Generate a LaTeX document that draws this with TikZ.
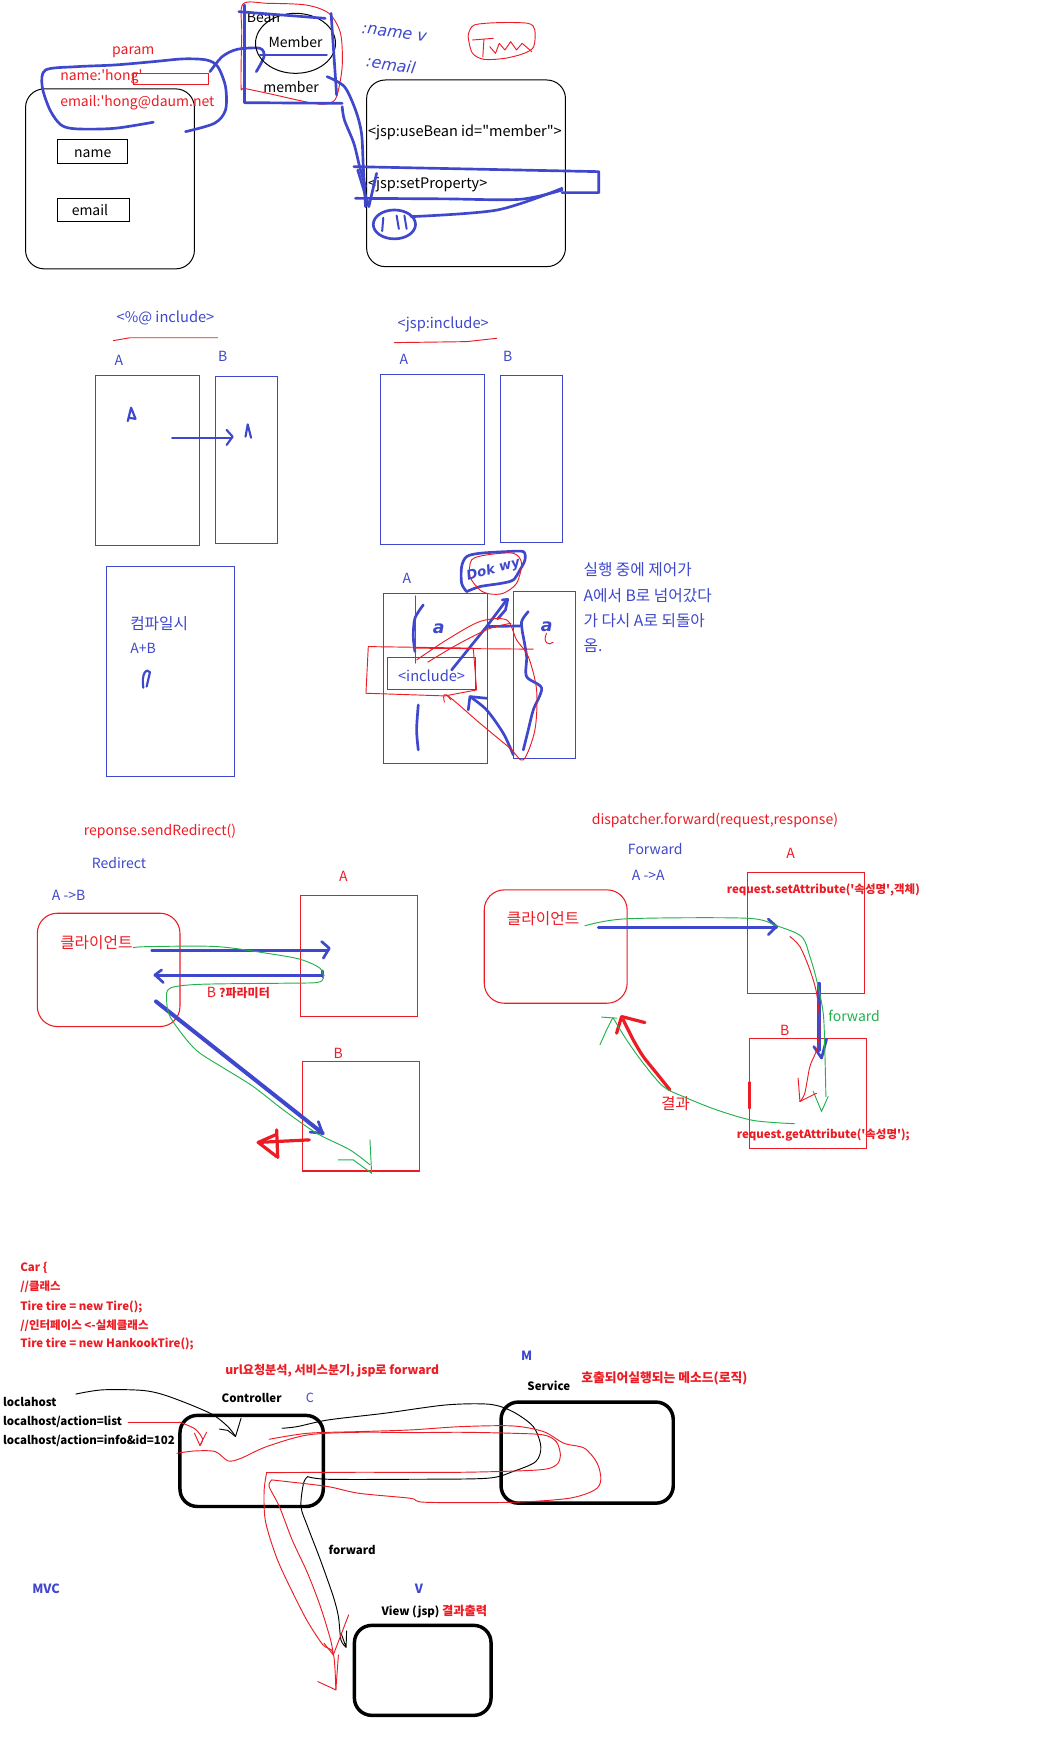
\documentclass[tikz,border=0pt]{standalone}
\usepackage{fontspec}
\setmainfont{Noto Sans CJK KR}
\newfontfamily\handfont{DejaVu Sans}
\definecolor{pblue}{HTML}{3F48CC}
\definecolor{pred}{HTML}{ED1C24}
\definecolor{pgreen}{HTML}{22B14C}
\begin{document}
\begin{tikzpicture}[x=0.8334pt,y=-0.8334pt,
 every node/.style={inner sep=0pt},
 tx/.style={font=\fontsize{10.5}{12}\selectfont},
 tk/.style={font=\fontsize{11.8}{13}\selectfont},
 tb/.style={font=\fontsize{8.6}{10}\selectfont\bfseries},
 hw/.style={font=\handfont\fontsize{12}{14}\selectfont\itshape, pblue},
 hb/.style={pblue, line width=2pt, line cap=round, line join=round},
 hbt/.style={pblue, line width=3pt, line cap=round, line join=round},
 hr/.style={pred, line width=0.7pt, line cap=round, line join=round},
 hrt/.style={pred, line width=2.4pt, line cap=round, line join=round},
 hg/.style={pgreen, line width=0.7pt, line cap=round, line join=round},
 kb/.style={black, line width=0.7pt, line cap=round, line join=round},
 kbox/.style={black, line width=0.75pt},
 kbt/.style={black, line width=2.6pt, rounded corners=13},
 bx/.style={pblue, line width=0.8pt},
 rx/.style={pred, line width=0.8pt},
]
\useasboundingbox[fill=white] (0,0) rectangle (944,1568);

%================ TOP: useBean =================
\draw[kbox, rounded corners=14] (23,80) rectangle (175,242);
\node[tx,pred] (param) at (120,47) {param};
\node[tx,pred,anchor=west] (nh) at (54,69) {name:\textquotesingle hong\textquotesingle};
\draw[rx] (120,66) rectangle (188,76);
\node[tx,pred,anchor=west] (em) at (54,92) {email:\textquotesingle hong@daum.net};
\draw[kbox] (52,126) rectangle (115,147);
\node[tx] (nm) at (83.5,138) {name};
\draw[kbox] (52,179) rectangle (117,199);
\node[tx] (eml) at (81,189) {email};
% blue loop around params
\draw[hb] plot[smooth] coordinates {(167,118.5) (193,111) (203,99) (203,78) (196,60) (186,54) (165,53) (138,55.5) (103,58.5) (69,60) (41,63) (38,78) (45,99) (55,112.5) (69,116) (103,115.5) (138,110)};
\draw[hb] plot[smooth] coordinates {(189,64.5) (200,51) (213.5,44.4) (234,43.5) (237.6,51) (230.7,64.5)};

% Bean
\draw[kbox] (266,39) ellipse (36 and 27);
\node[tx,anchor=west] (bean) at (222,16) {Bean};
\node[tx] (Mem) at (266,38) {Member};
\node[tx] (mem) at (262,78) {member};
\draw[hr] plot[smooth cycle] coordinates {(218.7,3.6) (241,3) (275.5,4.5) (296,12) (306.5,30) (308,60) (303,87) (296,93) (282,93) (241,84) (220,79.5) (217,78) (217.6,30)};
\draw[hb] (215,10.5) -- (292.7,16.5);
\draw[hb] (220,4.5) -- (220,92);
\draw[hb] (220,92.4) -- (308,93);
\draw[hb] (298,12) -- (303,85.5);
\draw[hb] (234,49.5) -- (294,49.5);
\node[hw, rotate=-8] (hname) at (355,30) {:name v};
\node[hw, rotate=-8] (hemail) at (352,58) {:email};
% red scribble
\draw[hr] plot[smooth cycle] coordinates {(421.8,30) (427,22.5) (447.7,20.4) (475.2,21) (481.4,27) (480.4,42) (471.8,48) (454.5,52.5) (435.6,53.4) (425.3,48) (421.8,36)};
\draw[hr] (425.3,36) -- (444,34.5);
\draw[hr] (435.6,35.4) -- (434.6,51);
\draw[hr] (440.8,42) -- (446,48) -- (449.4,39) -- (454.5,45) -- (459.7,37.5) -- (464.9,45) -- (470,39) -- (478.7,46.5);

% right box
\draw[kbox, rounded corners=14] (330,72) rectangle (509,240);
\node[tx,anchor=west,font=\fontsize{10.9}{12}\selectfont] (ub) at (331,119) {<jsp:useBean id=\textquotedbl member\textquotedbl>};
\node[tx,anchor=west,font=\fontsize{10.9}{12}\selectfont] (sp) at (331,166) {<jsp:setProperty>};
\draw[hb] (318.5,150) -- (539,154.5) -- (539,173.4) -- (506,173.4);
\draw[hb] plot[smooth] coordinates {(320,178.5) (400,179) (468,179.4) (506,171)};
\draw[hb] (355,202) ellipse (19 and 13);
\draw[hb, line width=1.5pt] (345,196) -- (344,208);
\draw[hb, line width=1.5pt] (357,194) -- (359,206);
\draw[hb, line width=1.5pt] (364,194) -- (366,206);
\draw[hb] plot[smooth] coordinates {(370,195) (447.7,189) (506,169.5)};
% arrow from member
\draw[hb] plot[smooth] coordinates {(294.4,69) (310,78) (320,99) (325.4,120) (327,150) (329,186)};
\draw[hb] plot[smooth] coordinates {(308,96) (310,108) (318.5,129) (323.7,150) (329,168)};
\draw[hb] (322,153) -- (332,186) -- (339,156);

%================ include =================
\node[tx,pblue,font=\fontsize{11}{12}\selectfont] (inc1) at (149,286) {<\%@ include>};
\draw[hr] (102,306.6) -- (117,304) -- (196,304);
\node[tx,pblue] (a1) at (107,324) {A};
\node[tx,pblue] (b1) at (200.4,321) {B};
\draw[bx] (85.8,338) rectangle (179.4,490.8);
\draw[bx] (193.8,339) rectangle (249.6,489);
\draw[hb, line width=1.6pt] (115,379) -- (118,367) -- (122,377) -- (116,376);
\draw[hb, line width=1.6pt] (155,394.5) -- (208.5,394.5);
\draw[hb, line width=1.6pt] (204,387) -- (209.4,393) -- (204,400.5);
\draw[hb, line width=1.6pt] (221,393) -- (223,382) -- (226,394);
\draw[bx] (95.7,509.7) rectangle (210.9,698.7);
\node[tk,pblue,anchor=west] (cmp) at (117,561) {컴파일시};
\node[tx,pblue,anchor=west] (apb) at (117,584) {A+B};
\draw[hb, line width=1.6pt] (129,619) .. controls (127,606) and (132,601) .. (135,605) -- (132,618);

\node[tx,pblue,font=\fontsize{11}{12}\selectfont] (inc2) at (399,291.6) {<jsp:include>};
\draw[hr] (355,308.4) -- (420,307.5) -- (447,304.5);
\node[tx,pblue] (a2) at (363.6,323.4) {A};
\node[tx,pblue] (b2) at (457,320.4) {B};
\draw[bx] (342.3,337) rectangle (435.9,490);
\draw[bx] (450.3,337.8) rectangle (506.1,488);

\node[tx,pblue] (a3) at (366.3,520.5) {A};
\draw[bx] (345,534) rectangle (438.6,687);
\draw[bx] (462,532.5) rectangle (517.8,682.5);
\draw[bx] (348.6,592) rectangle (428.4,621);
\node[tx,pblue,font=\fontsize{11}{12}\selectfont] (incl) at (388.5,608) {<include>};
\node[tk,pblue,anchor=west] (k1) at (525,513) {실행 중에 제어가};
\node[tk,pblue,anchor=west] (k2) at (525,536) {A에서 B로 넘어갔다};
\node[tk,pblue,anchor=west] (k3) at (525,559) {가 다시 A로 되돌아};
\node[tk,pblue,anchor=west] (k4) at (525,581.5) {옴.};
% scribble blob
\draw[hb] plot[smooth] coordinates {(420,532.5) (415.5,525) (415.5,510) (420,501) (432,498) (456,496.5) (471,496.5) (472.5,504) (468,513) (462,522) (451.5,525) (432,528) (420,532.5)};
\draw[hr] plot[smooth cycle] coordinates {(432,531) (423,519) (424.5,504) (438,499.5) (462,498) (469.5,507) (465,525) (453,534) (441,534.6)};
\node[hw, font=\handfont\fontsize{10}{12}\selectfont\itshape\bfseries, rotate=15] (dok) at (444,513) {Dok wy};
% blue strokes in A3 / B3
\draw[hb] plot[smooth] coordinates {(381,544.5) (373.5,556.5) (372,573) (373.5,586.5)};
\draw[hb] plot[smooth] coordinates {(376.5,634.5) (375,657) (376.5,675)};
\node[hw, font=\handfont\fontsize{13}{14}\selectfont\itshape\bfseries] (aa1) at (395,566) {a};
\node[hw, font=\handfont\fontsize{13}{14}\selectfont\itshape\bfseries] (aa2) at (492,564) {a};
\draw[hb] plot[smooth] coordinates {(475.5,550.5) (469.5,559.5) (471,573)};
\draw[hb] (406.5,603) -- (438,564) -- (456,540);
\draw[hb] (452,540) -- (457,539.5) -- (455,549) -- (448,557);
\draw[hb] (438,564) -- (468,563.4);
\draw[hb] plot[smooth] coordinates {(471,573) (474,591) (474,609) (487.5,619.4) (480,639) (475.5,657) (471,675)};
\draw[hb] plot[smooth] coordinates {(462,679.5) (453,660) (438,639) (423,627)};
\draw[hb] (421.5,639) -- (423,627) -- (438,628.5);
% red
\draw[hr] (374.4,536.4) -- (374.4,597);
\draw[hr] (372,583.4) -- (480,584.3);
\draw[hr] (426,583.4) -- (331.5,582) -- (329.4,624) -- (400.5,626.4) -- (429,621) -- (426,583.4);
\draw[hr] plot[smooth] coordinates {(375,594) (402,576) (432,559.4) (456,558) (465,576) (475.5,591) (483,621) (481.5,657) (471,684) (459,673.4) (432,651) (402,625.5) (400,632)};
\draw[hr] plot[smooth] coordinates {(385,596) (412,580) (440,566) (460,561)};
\draw[hr] (402,625.5) -- (406,630);
\draw[hr] (492,570) .. controls (488,578) and (494,582) .. (498,578);

%================ Redirect =================
\node[tx,pred] (sr) at (144,748.5) {reponse.sendRedirect()};
\node[tx,pblue,anchor=west] (rd) at (82.5,776.4) {Redirect};
\node[tx,pblue,anchor=west] (ab) at (46.5,806.3) {A ->B};
\draw[rx, rounded corners=15] (33.6,822) rectangle (162,924);
\node[tk,pred,anchor=west] (cl1) at (54,848.3) {클라이언트};
\draw[rx] (270.3,805.7) rectangle (375.9,914.6);
\node[tx,pred] (ra) at (309,789) {A};
\draw[rx] (272,955.4) rectangle (377.3,1054);
\node[tx,pred] (rb) at (304.5,948) {B};
\node[tx,pred,anchor=west] (bp) at (186,894) {B \textbf{\fontsize{9}{10}\selectfont ?파라미터}};
\draw[hb] (136.5,855.8) -- (295.5,855.8);
\draw[hb] (289.5,847.5) -- (296.4,853.5) -- (291,862.5);
\draw[hb] (291,878) -- (139.5,878);
\draw[hb] (145.5,873) -- (139.5,877.5) -- (147,884.4);
\draw[hb] (290.5,874) -- (290.5,879);
\draw[hbt] (140.4,901.4) -- (290.4,1020);
\draw[hb] (286.5,1009.5) -- (290.4,1020) -- (279,1019);
\draw[hrt] (278.4,1026) -- (232.5,1028.3);
\draw[hrt] (249,1021) -- (232.5,1028.3) -- (249,1041);
\draw[hrt] (249,1017) -- (250,1042);
\draw[hg] plot[smooth] coordinates {(120,852.9) (135,852) (195,852) (240,858) (270,863.4) (288,871.5) (291,880.5) (285,884.4) (255,885) (180,886) (153,889.5) (150,900) (153,915) (168,936) (180,948) (204,963) (228,978) (255,999) (285,1020) (315,1035) (333,1048.5)};
\draw[hg] (333,1026) -- (334.5,1056);
\draw[hg] (304.5,1044) -- (318,1044) -- (334.5,1056);

%================ Forward =================
\node[tx,pred] (df) at (643.5,738.6) {dispatcher.forward(request,response)};
\node[tx,pblue,anchor=west] (fw) at (565,764) {Forward};
\node[tx,pblue,anchor=west] (aa) at (568.5,787.5) {A ->A};
\draw[rx, rounded corners=15] (435.9,801) rectangle (564.5,903);
\node[tk,pred,anchor=west] (cl2) at (456,826.4) {클라이언트};
\draw[rx] (672.5,785) rectangle (777.8,894);
\node[tx,pred] (fa) at (711.6,768) {A};
\node[tb,pred,anchor=west] (sa) at (654,801.5) {request.setAttribute(\textquotesingle 속성명\textquotesingle,객체)};
\draw[rx] (674.3,934.4) rectangle (779.6,1033.4);
\node[tx,pred] (fb) at (706.4,927) {B};
\node[tb,pred,anchor=west] (ga) at (663,1021.4) {request.getAttribute(\textquotesingle 속성명\textquotesingle);};
\node[tx,pgreen,anchor=west] (fwd) at (745.4,914.3) {forward};
\node[tk,pred] (res) at (608,993) {결과};
\draw[hb] (538.5,834.8) -- (699,834.8);
\draw[hb] (691.5,827.3) -- (699,834) -- (691.5,841.4);
\draw[hbt] (737.3,885.5) -- (737.3,945);
\draw[hb] (732.5,942) -- (739.5,952.4) -- (744,935.3);
\draw[hrt] plot[smooth] coordinates {(603,981) (591,966) (579,951) (570,936) (561,918)};
\draw[hrt] (555,930) -- (559.5,915) -- (580.5,920.4);
\draw[hrt] (674.3,974.3) -- (674.3,997.4);
\draw[hg] plot[smooth] coordinates {(526.5,833.3) (564,827) (672,826.5) (699,833.3) (721.5,843) (729,861) (735,882) (741,912) (742.5,948) (743.4,987)};
\draw[hg] (732,982.4) -- (739.5,1000.4) -- (745.4,987);
\draw[hg] plot[smooth] coordinates {(715.4,1011.5) (678,1008.5) (645,999) (615,987) (597,978) (579,957) (564,936) (552,916.4)};
\draw[hg] (540,940.4) -- (546,927) -- (551.4,916.4);
\draw[hg] (541.5,915.5) -- (555,916.4);
\draw[hr] plot[smooth] coordinates {(711,843) (720,852) (729,873) (735,894) (738,924) (735,945) (729,960) (724.4,984) (720,991.4)};
\draw[hr] (718.4,970.4) -- (720,991.4) -- (735,984);

%================ MVC =================
\node[tb,pred,anchor=west] (c1) at (18,1141) {Car \{};
\node[tb,pred,anchor=west] (c2) at (18,1158) {//클래스};
\node[tb,pred,anchor=west] (c3) at (18,1176) {Tire tire = new Tire();};
\node[tb,pred,anchor=west] (c4) at (18,1193) {//인터페이스 <-실체클래스};
\node[tb,pred,anchor=west] (c5) at (18,1210) {Tire tire = new HankookTire();};
\node[tb,pred,font=\fontsize{9.1}{10}\selectfont\bfseries] (url) at (299,1233.5) {url요청분석, 서비스분기, jsp로 forward};
\node[tx,pblue,font=\fontsize{9.5}{11}\selectfont\bfseries] (mM) at (474,1220) {M};
\node[tb] (svc) at (494,1247) {Service};
\node[tb,pred,anchor=west,font=\fontsize{9.6}{10}\selectfont\bfseries] (svcd) at (523,1241) {호출되어실행되는 메소드(로직)};
\node[tb] (ctl) at (226.5,1258.4) {Controller};
\node[tx,pblue,font=\fontsize{9.5}{11}\selectfont] (cC) at (279,1258) {C};
\node[tb,anchor=west] (u1) at (2.5,1262.3) {loclahost};
\node[tb,anchor=west] (u2) at (2.5,1279.5) {localhost/action=list};
\node[tb,anchor=west] (u3) at (2.5,1296.5) {localhost/action=info\&id=102};
\draw[kbt] (162,1274) rectangle (291,1356);
\draw[kbt] (451,1262) rectangle (606,1353);
\draw[kbt] (319,1463) rectangle (442,1544);
\node[tb] (fw2) at (317,1395.5) {forward};
\node[tx,pblue,font=\fontsize{9.5}{11}\selectfont\bfseries] (mvc) at (41.5,1430) {MVC};
\node[tx,pblue,font=\fontsize{9.5}{11}\selectfont\bfseries] (vV) at (377,1430) {V};
\node[tb] (vw) at (391,1451) {View (jsp) \textcolor{pred}{\fontsize{9.2}{10}\selectfont 결과출력}};
% black curves
\draw[kb] plot[smooth] coordinates {(68.3,1254.8) (92.3,1251) (129,1251.6) (152,1257) (189,1272) (205,1284) (212,1293)};
\draw[kb] (197.5,1286.3) -- (205,1287.5) -- (212,1293) -- (217,1276.5);
\draw[kb] plot[smooth] coordinates {(253.8,1285.6) (267.6,1284.1) (295.3,1278.1) (346,1272.1) (401.5,1264.6) (440.7,1264) (461.5,1270.6) (480,1284.1) (486.8,1302.1) (482.2,1315.6) (461.5,1324.6) (438.4,1330.6) (369.2,1331.5) (295.3,1331.5) (276.9,1329.1)};
\draw[kb] plot[smooth] coordinates {(276.9,1329.1) (273.2,1335.1) (270.9,1356.1) (276.9,1374.1) (288.4,1404.1) (300,1437.1) (304.6,1455.1) (306.9,1476.1) (311.5,1482.7)};
\draw[kb] (307,1470) -- (311.5,1482.7) -- (312,1468);
% red curves
\draw[hr] (115.4,1280) -- (161.5,1280);
\draw[hr] plot[smooth] coordinates {(161.5,1280) (175.4,1286.1) (182.3,1295.1) (180,1301.1)};
\draw[hr] (175,1290) -- (180,1301.1) -- (186,1289);
\draw[hr] plot[smooth] coordinates {(159.2,1308.1) (175.4,1306) (193.8,1306.6) (205.4,1315) (216.9,1312.6) (240,1302.1) (276.9,1291.6) (323,1289.2) (369.2,1289.5) (415.3,1289.2) (461.5,1290.1) (489.2,1291.6) (500.7,1297.6) (504.4,1309.6) (500.7,1318.6) (484.5,1323.1) (415.3,1325.2) (323,1325.2) (240,1325.5)};
\draw[hr] plot[smooth] coordinates {(240,1325.5) (237.7,1342.6) (239,1369.6) (249.2,1402.6) (263,1432.6) (276.9,1459.6) (290.7,1480.6) (300,1488.1) (302.3,1521)};
\draw[hr] (286.1,1513.6) -- (302.3,1521.1) -- (304.6,1489.6);
\draw[hr] plot[smooth] coordinates {(242.3,1295.5) (276.9,1290.1) (323,1288.6) (369.2,1287.1) (415.3,1284.1) (461.5,1283.5) (489.2,1288.6) (507.6,1299.1) (526.1,1303.6) (537.6,1317.1) (540.8,1332.1) (535.3,1341.1) (512.2,1348.6) (461.5,1352.2) (383,1352.2) (369.2,1348.6) (323,1344.1) (295.3,1338.1) (258.4,1333.6) (244.6,1332.1)};
\draw[hr] plot[smooth] coordinates {(244.6,1332.1) (242.3,1338.1) (251.5,1356.1) (263,1386.1) (276.9,1416.1) (288.4,1446.1) (297.6,1476.1) (300,1489.6)};
\draw[hr] (291.6,1479.1) -- (300,1489.6) -- (313.8,1453.6);
\end{tikzpicture}
\end{document}
